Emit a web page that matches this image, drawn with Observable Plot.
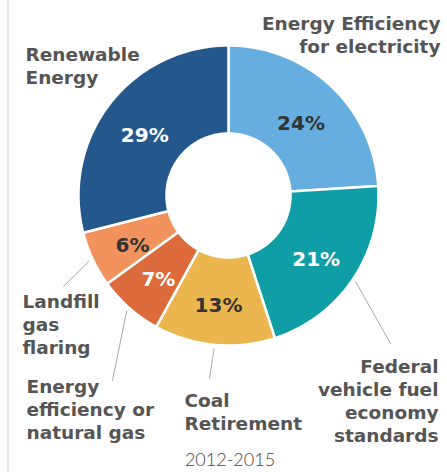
<!DOCTYPE html>
<html>
<head>
<meta charset="utf-8">
<script src="https://cdn.jsdelivr.net/npm/d3@7"></script>
<script src="https://cdn.jsdelivr.net/npm/@observablehq/plot@0.6"></script>
<style>
  html, body { margin: 0; padding: 0; background: #fff; }
</style>
</head>
<body>
<div id="chart"></div>
<script>
// ---- data ----
const categories = [
  "Energy Efficiency for electricity",
  "Federal vehicle fuel economy standards",
  "Coal Retirement",
  "Energy efficiency or natural gas",
  "Landfill gas flaring",
  "Renewable Energy"
];
const values = [24, 21, 13, 7, 6, 29];
const percentLabels = ["24%", "21%", "13%", "7%", "6%", "29%"];
const categoryLabels = [
  "Energy Efficiency\nfor electricity",
  "Federal\nvehicle fuel\neconomy\nstandards",
  "Coal\nRetirement",
  "Energy\nefficiency or\nnatural gas",
  "Landfill\ngas\nflaring",
  "Renewable\nEnergy"
];
const caption = "2012-2015";

// ---- styles ----
const sliceColors = ["#66aee0", "#109ea6", "#eab64d", "#dd6a3b", "#f2925c", "#24578c"];
const lightPercent = [false, true, false, true, false, true];

// ---- layout ----
const W = 447, H = 472;
const cx = 228, cy = 195, R = 150, r0 = 62;
const labelLayout = [
  {x: 440, y: 52, anchor: "end", leader: null},
  {x: 438, y: 441, anchor: "end", leader: [390, 343]},
  {x: 184, y: 429, anchor: "start", leader: [209, 378]},
  {x: 26, y: 438, anchor: "start", leader: [112, 380]},
  {x: 22, y: 353, anchor: "start", leader: [63, 286]},
  {x: 25, y: 83, anchor: "start", leader: null}
];

// ---- geometry from data ----
const total = d3.sum(values);
let acc = 0;
const slices = categories.map((category, i) => {
  const a0 = acc / total * 2 * Math.PI;
  acc += values[i];
  const a1 = acc / total * 2 * Math.PI;
  return {category, value: values[i], a0, a1, mid: (a0 + a1) / 2, i};
});
const pt = (rho, a) => [cx + rho * Math.sin(a), cy - rho * Math.cos(a)];
function ring(s) {
  const n = Math.max(2, Math.ceil((s.a1 - s.a0) / (Math.PI / 180)));
  const outer = d3.range(n + 1).map(k => pt(R, s.a0 + (s.a1 - s.a0) * k / n));
  const inner = d3.range(n + 1).map(k => pt(r0, s.a1 - (s.a1 - s.a0) * k / n));
  return [...outer, ...inner, outer[0]];
}
const sliceFeatures = slices.map(s => ({
  type: "Feature", properties: s,
  geometry: {type: "Polygon", coordinates: [ring(s)]}
}));
const leaders = slices.filter(s => labelLayout[s.i].leader).map(s => ({
  type: "Feature", properties: s,
  geometry: {type: "LineString", coordinates: [pt(R + 4, s.mid), labelLayout[s.i].leader]}
}));
const border = {type: "LineString", coordinates: [[7.5, 0], [7.5, H]]};

const rLabel = (R + r0) / 2;
const labelFont = "DejaVu Sans, sans-serif";

const labelText = (anchor) => Plot.text(slices.filter(s => labelLayout[s.i].anchor === anchor), {
  x: s => labelLayout[s.i].x,
  y: s => labelLayout[s.i].y,
  text: s => categoryLabels[s.i],
  textAnchor: anchor,
  lineAnchor: "bottom",
  lineHeight: 1.24,
  fontSize: 18.5,
  fontWeight: "bold",
  fontFamily: labelFont,
  fill: "#555"
});

const pctText = (light) => Plot.text(slices.filter(s => lightPercent[s.i] === light), {
  x: s => pt(rLabel, s.mid)[0],
  y: s => pt(rLabel, s.mid)[1] + 5,
  text: s => percentLabels[s.i],
  fontSize: 20,
  fontWeight: "bold",
  fontFamily: labelFont,
  fill: light ? "#ffffff" : "#333333"
});

const chart = Plot.plot({
  width: W,
  height: H,
  margin: 0,
  projection: {type: "identity"},
  color: {domain: categories, range: sliceColors},
  style: {background: "#fff"},
  marks: [
    Plot.geo([border], {stroke: "#cfcfcf", strokeWidth: 1}),
    Plot.geo(sliceFeatures, {fill: d => d.properties.category, stroke: "#fff", strokeWidth: 2.5}),
    Plot.geo(leaders, {stroke: "#a8a8a8", strokeWidth: 1}),
    pctText(true),
    pctText(false),
    labelText("start"),
    labelText("end"),
    Plot.text([caption], {
      frameAnchor: "bottom",
      dx: 6,
      dy: -7,
      lineAnchor: "bottom",
      text: d => d,
      fontSize: 18,
      fontWeight: 300,
      fontFamily: "Lato, 'Open Sans', sans-serif",
      fill: "#444"
    })
  ]
});
document.getElementById("chart").appendChild(chart);
</script>
</body>
</html>
